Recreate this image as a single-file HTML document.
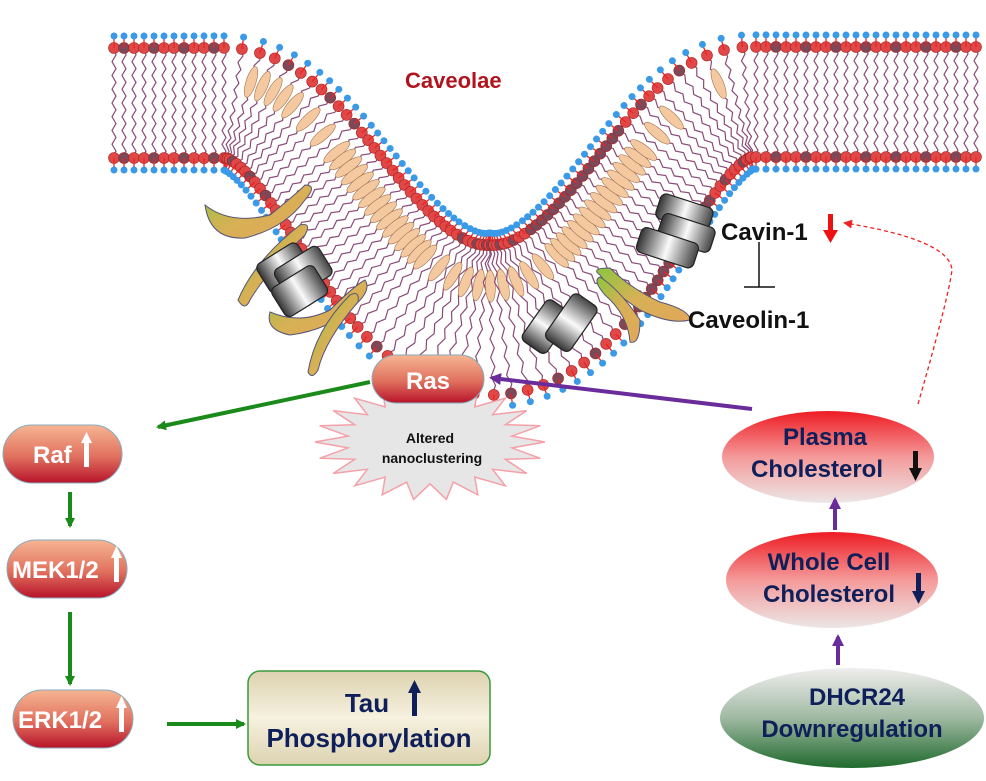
<!DOCTYPE html>
<html><head><meta charset="utf-8"><style>
html,body{margin:0;padding:0;background:#fff;}
svg{display:block;font-family:"Liberation Sans",Arial,sans-serif;font-weight:bold;}
</style></head><body>
<svg id="s" width="986" height="781" viewBox="0 0 986 781" xmlns="http://www.w3.org/2000/svg">
<defs>
<linearGradient id="pill" x1="0" y1="0" x2="0" y2="1"><stop offset="0" stop-color="#f6b592"/><stop offset="0.55" stop-color="#e0705e"/><stop offset="1" stop-color="#b8132a"/></linearGradient>
<linearGradient id="ell" x1="0" y1="0" x2="0" y2="1"><stop offset="0" stop-color="#ee1c24"/><stop offset="0.5" stop-color="#f49a9a"/><stop offset="1" stop-color="#ece6e6"/></linearGradient>
<linearGradient id="grn" x1="0" y1="0" x2="0" y2="1"><stop offset="0" stop-color="#f0eeee"/><stop offset="0.5" stop-color="#9fb9a2"/><stop offset="1" stop-color="#1f6a2d"/></linearGradient>
<linearGradient id="tau" x1="0" y1="0" x2="0" y2="1"><stop offset="0" stop-color="#ddd3b0"/><stop offset="0.5" stop-color="#f6f1e0"/><stop offset="1" stop-color="#ddd3b0"/></linearGradient>
<linearGradient id="cyl" x1="0" y1="0" x2="1" y2="0"><stop offset="0" stop-color="#333"/><stop offset="0.5" stop-color="#fafafa"/><stop offset="1" stop-color="#444"/></linearGradient>
<linearGradient id="hook" x1="0" y1="0" x2="1" y2="1"><stop offset="0" stop-color="#8cc63f"/><stop offset="0.5" stop-color="#d8b055"/><stop offset="1" stop-color="#e0a85a"/></linearGradient>
<marker id="ag" markerWidth="10" markerHeight="10" refX="8" refY="5" orient="auto" markerUnits="userSpaceOnUse"><path d="M0,0 L10,5 L0,10 z" fill="#1a8a1a"/></marker>
<marker id="ap" markerWidth="12" markerHeight="12" refX="9" refY="6" orient="auto" markerUnits="userSpaceOnUse"><path d="M0,0 L12,6 L0,12 z" fill="#6a2c9a"/></marker>
<marker id="ar" markerWidth="9" markerHeight="9" refX="7" refY="4.5" orient="auto" markerUnits="userSpaceOnUse"><path d="M0,0 L9,4.5 L0,9 z" fill="#e22"/></marker>
</defs>
<g id="mem"></g>
<g fill="url(#hook)" stroke="#557" stroke-width="1">
<path d="M205,205 Q230,225 270,215 Q295,195 305,185 Q318,185 305,200 Q285,228 245,238 Q210,240 205,205z"/>
<path d="M238,300 Q255,260 300,225 Q312,222 305,235 Q268,270 250,300 Q245,312 238,300z"/>
<path d="M270,312 Q300,325 330,310 Q355,285 365,280 Q372,290 355,305 Q330,330 290,335 Q265,330 270,312z"/>
<path d="M308,372 Q315,330 350,295 Q360,290 358,302 Q325,340 318,370 Q312,380 308,372z"/>
<path d="M690,320 Q670,325 640,310 Q610,290 600,275 Q590,268 610,268 Q630,288 660,302 Q690,310 690,320z"/>
<path d="M630,342 Q628,315 605,295 Q592,280 600,277 Q620,290 640,320 Q640,345 630,342z"/>
</g>
<g stroke="#222" stroke-width="1.2" fill="url(#cyl)">
<g transform="rotate(-32 290 270)"><rect x="262" y="248" width="48" height="34" rx="6"/><rect x="274" y="262" width="52" height="34" rx="6"/><rect x="262" y="276" width="50" height="34" rx="6"/></g>
<g transform="rotate(-55 560 330)"><rect x="530" y="302" width="50" height="30" rx="6"/><rect x="545" y="320" width="55" height="30" rx="6"/></g>
<g transform="rotate(18 680 235)"><rect x="650" y="200" width="55" height="26" rx="6"/><rect x="658" y="218" width="55" height="26" rx="6"/><rect x="642" y="238" width="60" height="26" rx="6"/></g>
</g>
<text x="405" y="88" font-size="22" fill="#b0141c">Caveolae</text>
<polygon id="star" fill="#e6e6e6" stroke="#f4a0a8" stroke-width="1.5"/>
<text x="430" y="443" font-size="14" text-anchor="middle" fill="#111">Altered</text>
<text x="432" y="463" font-size="14" text-anchor="middle" fill="#111">nanoclustering</text>
<rect x="372" y="355" width="112" height="48" rx="24" fill="url(#pill)" stroke="#8ab" stroke-width="1"/>
<text x="428" y="389" font-size="24" text-anchor="middle" fill="#fff">Ras</text>
<rect x="3" y="425" width="119" height="58" rx="29" fill="url(#pill)" stroke="#8ab"/>
<text x="33" y="463" font-size="24" fill="#fff">Raf</text><rect x="84" y="441" width="5" height="26" fill="#fff"/><path d="M81,443 L86.5,432 L92,443z" fill="#fff"/>
<rect x="7" y="540" width="120" height="58" rx="29" fill="url(#pill)" stroke="#8ab"/>
<text x="12" y="578" font-size="24" fill="#fff">MEK1/2</text><rect x="114" y="555" width="5" height="27" fill="#fff"/><path d="M111,558 L116.5,546 L122,558z" fill="#fff"/>
<rect x="13" y="690" width="120" height="58" rx="29" fill="url(#pill)" stroke="#8ab"/>
<text x="18" y="728" font-size="24" fill="#fff">ERK1/2</text><rect x="119" y="705" width="5" height="27" fill="#fff"/><path d="M116,708 L121.5,696 L127,708z" fill="#fff"/>
<g stroke="#1a8a1a" stroke-width="4" fill="none">
<line x1="370" y1="382" x2="158" y2="427" marker-end="url(#ag)"/>
<line x1="70" y1="492" x2="70" y2="526" marker-end="url(#ag)"/>
<line x1="70" y1="612" x2="70" y2="684" marker-end="url(#ag)"/>
<line x1="167" y1="724" x2="244" y2="724" marker-end="url(#ag)"/>
</g>
<rect x="248" y="671" width="242" height="94" rx="12" fill="url(#tau)" stroke="#3a9a3a" stroke-width="1.5"/>
<text x="367" y="712" font-size="26" text-anchor="middle" fill="#0f1f5a">Tau</text>
<rect x="412" y="690" width="5" height="26" fill="#0f1f5a"/><path d="M408,693 L414.5,680 L421,693z" fill="#0f1f5a"/>
<text x="369" y="747" font-size="26" text-anchor="middle" fill="#0f1f5a">Phosphorylation</text>
<ellipse cx="828" cy="457" rx="106" ry="46" fill="url(#ell)"/>
<text x="825" y="445" font-size="24" text-anchor="middle" fill="#0f1f5a">Plasma</text>
<text x="817" y="477" font-size="24" text-anchor="middle" fill="#0f1f5a">Cholesterol</text>
<rect x="913" y="451" width="5" height="20" fill="#111"/><path d="M909,468 L915.5,481 L922,468z" fill="#111"/>
<ellipse cx="832" cy="580" rx="106" ry="48" fill="url(#ell)"/>
<text x="829" y="570" font-size="24" text-anchor="middle" fill="#0f1f5a">Whole Cell</text>
<text x="829" y="602" font-size="24" text-anchor="middle" fill="#0f1f5a">Cholesterol</text>
<rect x="916" y="573" width="5" height="22" fill="#0f1f5a"/><path d="M912,591 L918.5,604 L925,591z" fill="#0f1f5a"/>
<ellipse cx="852" cy="718" rx="132" ry="50" fill="url(#grn)"/>
<text x="857" y="705" font-size="24" text-anchor="middle" fill="#0f1f5a">DHCR24</text>
<text x="852" y="737" font-size="24" text-anchor="middle" fill="#0f1f5a">Downregulation</text>
<g stroke="#6a2c9a" stroke-width="4" fill="none">
<line x1="752" y1="409" x2="492" y2="378" marker-end="url(#ap)"/>
<line x1="835" y1="530" x2="835" y2="500" marker-end="url(#ap)"/>
<line x1="838" y1="665" x2="838" y2="637" marker-end="url(#ap)"/>
</g>
<text x="721" y="240" font-size="24" fill="#111">Cavin-1</text>
<rect x="828" y="214" width="5" height="20" fill="#e11"/><path d="M823,230 L830.5,243 L838,230z" fill="#e11"/>
<line x1="759" y1="242" x2="759" y2="287" stroke="#111" stroke-width="1.5"/>
<line x1="744" y1="287" x2="775" y2="287" stroke="#111" stroke-width="1.5"/>
<text x="688" y="328" font-size="24" fill="#111">Caveolin-1</text>
<path d="M918,404 Q948,300 952,270 Q950,240 845,223" fill="none" stroke="#e22" stroke-width="1.3" stroke-dasharray="4,3" marker-end="url(#ar)"/>
</svg>
<script>
(function(){
var g=document.getElementById('mem');
function bez(p0,p1,p2,p3,t){var u=1-t;return [u*u*u*p0[0]+3*u*u*t*p1[0]+3*u*t*t*p2[0]+t*t*t*p3[0],u*u*u*p0[1]+3*u*u*t*p1[1]+3*u*t*t*p2[1]+t*t*t*p3[1]];}
var pts=[];
for(var x=112;x<225;x+=2)pts.push([x,103]);
for(var t=0;t<=1;t+=0.004)pts.push(bez([225,103],[320,103],[370,318],[490,320],t));
for(var t=0;t<=1;t+=0.004)pts.push(bez([490,320],[610,318],[660,104],[750,102],t));
for(var x=750;x<=982;x+=2)pts.push([x,102]);
var acc=0,last=null,h='';
var step=9;
for(var i=1;i<pts.length-1;i++){
 var p=pts[i];
 if(last){acc+=Math.hypot(p[0]-last[0],p[1]-last[1]);}
 last=p;
 if(acc<step&&i>1)continue;acc=0;
 var dx=pts[i+1][0]-pts[i-1][0],dy=pts[i+1][1]-pts[i-1][1],L=Math.hypot(dx,dy);
 var nx=-dy/L,ny=dx/L;
 var th=55+20*Math.exp(-Math.pow((p[0]-490)/120,2));
 var a=[p[0]-nx*th,p[1]-ny*th],b=[p[0]+nx*th,p[1]+ny*th];
 var d='M'+a[0].toFixed(1)+','+a[1].toFixed(1);
 var n=16;for(var k=1;k<=n;k++){var f=k/n,w=(k%2?2:-2);d+=' L'+(a[0]+(b[0]-a[0])*f+dx/L*w).toFixed(1)+','+(a[1]+(b[1]-a[1])*f+dy/L*w).toFixed(1);}
 h+='<path d="'+d+'" stroke="#8a4a78" stroke-width="1.2" fill="none"/>';
 var hc=(i%3==0)?'#7a4a5a':'#e04848';
 h+='<circle cx="'+a[0].toFixed(1)+'" cy="'+a[1].toFixed(1)+'" r="5.5" fill="'+hc+'" stroke="#a22" stroke-width="0.6"/>';
 h+='<circle cx="'+b[0].toFixed(1)+'" cy="'+b[1].toFixed(1)+'" r="5.5" fill="'+hc+'" stroke="#a22" stroke-width="0.6"/>';
 h+='<line x1="'+a[0]+'" y1="'+a[1]+'" x2="'+(a[0]-nx*10)+'" y2="'+(a[1]-ny*10)+'" stroke="#e22" stroke-width="1.3"/>';
 h+='<line x1="'+b[0]+'" y1="'+b[1]+'" x2="'+(b[0]+nx*10)+'" y2="'+(b[1]+ny*10)+'" stroke="#e22" stroke-width="1.3"/>';
 h+='<circle cx="'+(a[0]-nx*12)+'" cy="'+(a[1]-ny*12)+'" r="3.5" fill="#3a9ae8"/>';
 h+='<circle cx="'+(b[0]+nx*12)+'" cy="'+(b[1]+ny*12)+'" r="3.5" fill="#3a9ae8"/>';
 if(p[0]>230&&p[0]<740&&i%2==0){
  var c=[p[0]-nx*th*0.45,p[1]-ny*th*0.45];
  h+='<ellipse cx="'+c[0].toFixed(1)+'" cy="'+c[1].toFixed(1)+'" rx="16" ry="5" transform="rotate('+(Math.atan2(ny,nx)*180/Math.PI).toFixed(1)+' '+c[0].toFixed(1)+' '+c[1].toFixed(1)+')" fill="#f5c9a0" stroke="#a07050" stroke-width="0.6"/>';
 }
}
g.innerHTML=h;
var s='',N=44;for(var k=0;k<N;k++){var ang=k/N*2*Math.PI,r=(k%2?0.72:1);s+=(430+115*r*Math.cos(ang)).toFixed(1)+','+(442+58*r*Math.sin(ang)).toFixed(1)+' ';}
document.getElementById('star').setAttribute('points',s);
})();
</script>
</body></html>
